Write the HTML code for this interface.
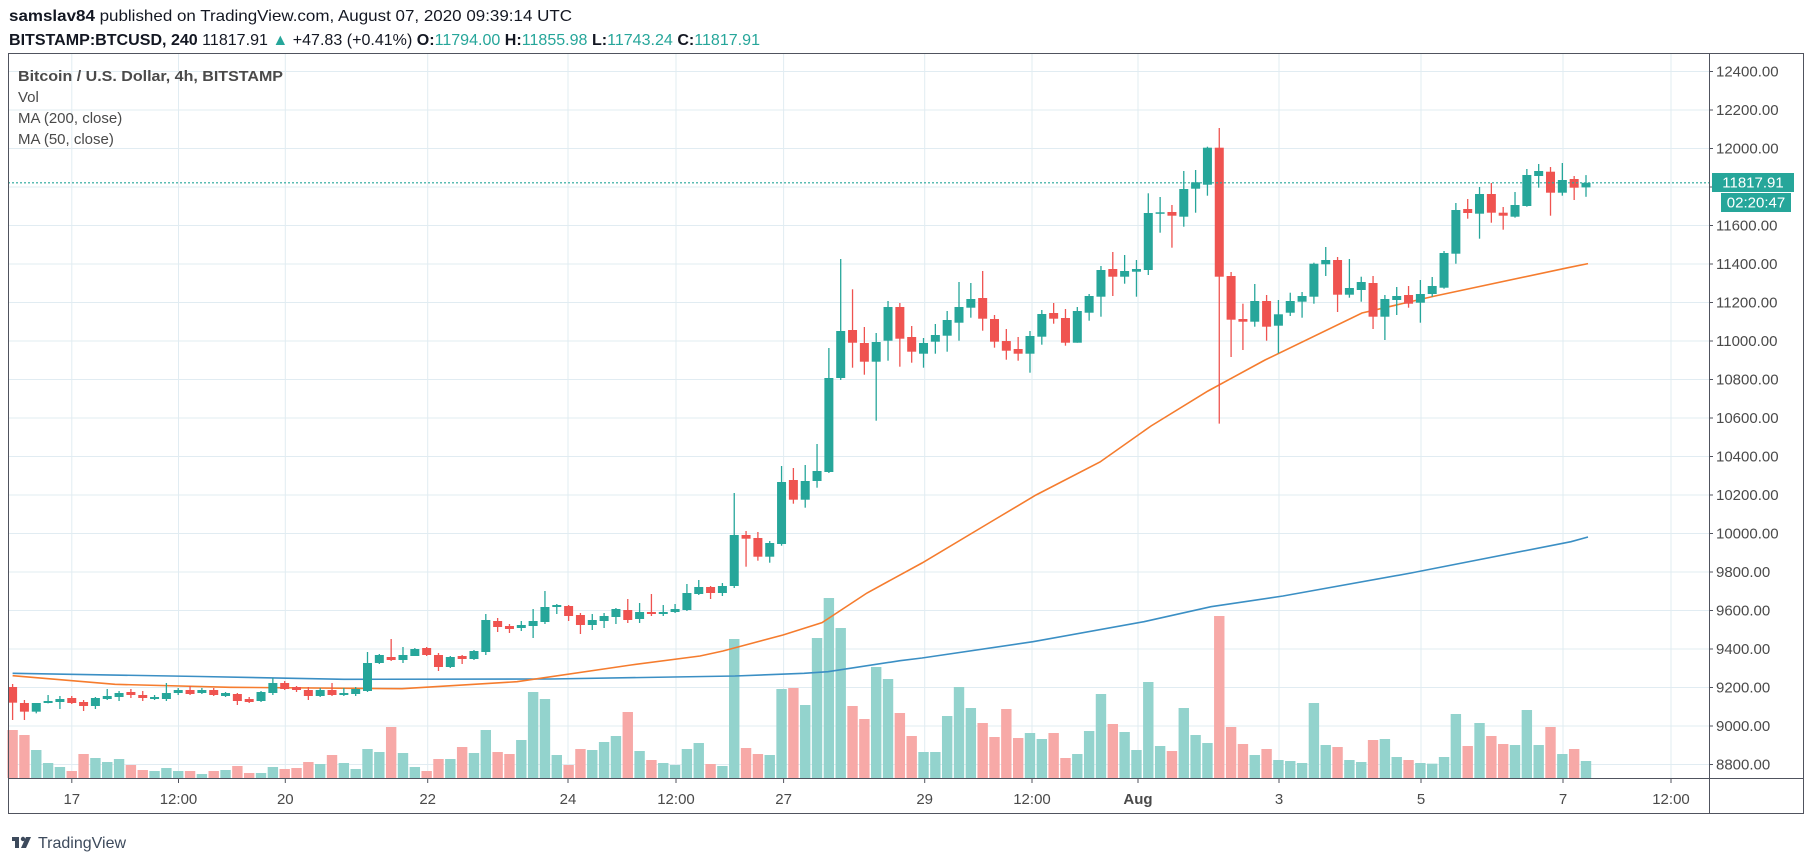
<!DOCTYPE html>
<html><head><meta charset="utf-8"><style>
html,body{margin:0;padding:0;background:#fff;width:1805px;height:861px;overflow:hidden}
svg{display:block;font-family:"Liberation Sans",sans-serif}
</style></head><body>
<svg id="s" width="1805" height="861" viewBox="0 0 1805 861" xmlns="http://www.w3.org/2000/svg">
<rect width="1805" height="861" fill="#fff"/>
<g id="grid" stroke="#e1ecf2" stroke-width="1"></g>
<g id="vol"></g>
<polyline id="ma200" fill="none" stroke="#3b8fc4" stroke-width="1.6" points="12.6,673.3 200,676.5 344,679.3 550,679 735,676 804,673.3 828,671.7 900,660.7 922,658 1033,641.7 1144,621.7 1211,606.7 1283,596 1411,573 1571,541.7 1588,537"/>
<polyline id="ma50" fill="none" stroke="#f57c2e" stroke-width="1.6" points="12.6,675.7 115,684.3 230,687.3 402,688.7 517,681.7 631,665 700,656 723,651 783,635 822,622.7 867,593 922,563 994,520 1036,495 1100,462 1151,426 1208,391 1265,360 1362,313 1435,296 1568,267.7 1588,263.6"/>
<g id="cnd"></g>
<line x1="8" y1="182.8" x2="1709" y2="182.8" stroke="#26a69a" stroke-width="1.2" stroke-dasharray="2,2"/>
<rect x="8.5" y="53.5" width="1795" height="760" fill="none" stroke="#50535e" stroke-width="1"/>
<line x1="1709.5" y1="53" x2="1709.5" y2="814" stroke="#50535e"/>
<line x1="8" y1="778.5" x2="1804" y2="778.5" stroke="#50535e"/>
<g id="ax" font-size="15" fill="#4a4a4a"></g>
<rect x="1712" y="173" width="82" height="19" fill="#26a69a"/>
<text x="1753" y="187.5" font-size="15" fill="#fff" text-anchor="middle">11817.91</text>
<rect x="1721" y="193" width="70" height="19" fill="#26a69a"/>
<text x="1756" y="207.5" font-size="15" fill="#fff" text-anchor="middle">02:20:47</text>
<text x="9" y="21" font-size="16" fill="#131722" textLength="563" lengthAdjust="spacingAndGlyphs"><tspan font-weight="bold">samslav84</tspan> published on TradingView.com, August 07, 2020 09:39:14 UTC</text>
<text x="9" y="45" font-size="16" fill="#131722" textLength="751" lengthAdjust="spacingAndGlyphs"><tspan font-weight="bold">BITSTAMP:BTCUSD, 240</tspan> 11817.91 <tspan fill="#26a69a">▲</tspan> +47.83 (+0.41%) <tspan font-weight="bold">O:</tspan><tspan fill="#26a69a">11794.00</tspan> <tspan font-weight="bold">H:</tspan><tspan fill="#26a69a">11855.98</tspan> <tspan font-weight="bold">L:</tspan><tspan fill="#26a69a">11743.24</tspan> <tspan font-weight="bold">C:</tspan><tspan fill="#26a69a">11817.91</tspan></text>
<g font-size="15" fill="#4a4a4a">
<text x="18" y="81" font-weight="bold" textLength="265" lengthAdjust="spacingAndGlyphs">Bitcoin / U.S. Dollar, 4h, BITSTAMP</text>
<text x="18" y="102">Vol</text>
<text x="18" y="123">MA (200, close)</text>
<text x="18" y="144">MA (50, close)</text>
</g>
<g transform="translate(12,834)">
<rect x="0" y="3" width="7" height="4" fill="#3d4a5c"/><rect x="3" y="3" width="4" height="11" fill="#3d4a5c"/>
<circle cx="11" cy="5" r="2.2" fill="#3d4a5c"/><path d="M9 14 L14 3 L19 3 L14 14 Z" fill="#3d4a5c"/>
</g>
<text x="38" y="848" font-size="16" fill="#3d4a5c">TradingView</text>
</svg>
<script>
var NS="http://www.w3.org/2000/svg";
function el(p,t,a){var e=document.createElementNS(NS,t);for(var k in a)e.setAttribute(k,a[k]);p.appendChild(e);return e;}
function Y(p){return 764.5-(p-8800)*0.1925;}
var grid=document.getElementById('grid'),ax=document.getElementById('ax');
for(var p=8800;p<=12400;p+=200){var y=Y(p);el(grid,'line',{x1:8,x2:1709,y1:y,y2:y});
 var t=el(ax,'text',{x:1716,y:y+5});t.textContent=p.toFixed(2);
 el(ax,'line',{x1:1709,x2:1713,y1:y,y2:y,stroke:'#50535e'});}
var vx=[[71.8,'17'],[178.5,'12:00'],[285.3,'20'],[427.7,'22'],[568,'24'],[676,'12:00'],[783.6,'27'],[924.7,'29'],[1032,'12:00'],[1138,'Aug'],[1279,'3'],[1421,'5'],[1563,'7'],[1671,'12:00']];
vx.forEach(function(v){el(grid,'line',{x1:v[0],x2:v[0],y1:54,y2:778});
 el(ax,'line',{x1:v[0],x2:v[0],y1:778,y2:783,stroke:'#50535e'});
 var a={x:v[0],y:804,'text-anchor':'middle'};if(v[1]=='Aug')a['font-weight']='bold';
 var t=el(ax,'text',a);t.textContent=v[1];});
var A8=[[321,368,312,420],[369,395,360,420],[395,369,369,400],[369,363,345,370],[366,357,348,387],[354,369,348,372],[366,378,360,393],[378,354,351,387],[357,348,327,360],[351,339,333,363],[336,345,327,354],[345,354,333,363],[357,351,345,360],[357,339,309,363],[339,330,324,345],[330,342,318,345],[339,330,324,342],[330,345,324,348],[348,339,336,351],[342,363,339,375],[357,366,351,369],[363,336,333,366],[339,309,294,345],[309,327,303,330],[321,330,318,336],[330,348,321,360],[348,330,324,351],[330,345,309,348],[345,339,324,348],[342,327,321,348],[333,249,216,336],[249,225,222,252],[231,240,177,243],[240,225,201,249],[228,207,204,228],[204,225,201,228],[225,261,219,273],[261,231,228,264],[228,237,225,252],[237,213,210,240],[216,120,102,225],[123,141,114,156],[138,147,132,159],[144,135,123,153],[138,123,87,174],[126,81,33,132],[81,75,72,102],[78,108,75,123],[105,135,99,162],[135,120,102,150],[123,108,99,144],[111,87,84,132],[90,120,57,129],[117,96,69,129],[96,102,42,108],[102,96,75,108],[96,87,72,99],[90,39,12,93],[42,21,0,45],[21,39,18,57],[39,18,9,48]];
var C=A8.map(function(r){return r.map(function(z){return 580+z/3;});});
C=C.concat([[586,535,493,588],[535,538.7,531,566.7],[538,556.7,532,560.7],[556.7,543,541,562.7],[544,482,466,545.7],[480,499.7,468,503.7],[499.7,481,465,507.7],[481,471,444,487.7],[472,378,348,473],[378,331,259,380],[330,342.7,289.3,367.7],[343,361.7,327,374.7],[361.7,342,333,420.7],[340.7,307,301,360.7],[307,338.7,303,366.7],[337,351.7,326,362.7],[353.7,343,338,367.7],[341.7,335,324,353.7],[335.7,320,311,351.7],[322.7,307,282,340.7],[307.7,299,283,317.7],[298,318.7,271,330.7],[319,341.7,315,347.7],[341,350.7,329,359.7],[349,353.7,337,360.7],[353.7,336,331,372.7],[336.7,314,310,344.7],[313,318.7,303,323.7],[318,342.7,309,345.7],[342.7,311,307,342.7],[312.7,296,294,320.7],
[296.7,270,266,316.7],[269,276.7,252,296],[276.7,271,255,283.7],[271.7,269,260,296.7],[270,213,193.3,275],[213.7,212.3,197,232.7],[212,215.7,205,247.7],[216.7,189,171,226.7],[188.7,182.3,170,212.7],[184.7,147.7,146.7,195.7],[147.7,276.7,128,423.6],[276,319.7,272,357],[319,321.7,303.7,350],[321.7,301,284,326.7],[301,326.7,295,340.7],[325.7,314.3,300,353.3],[312.7,301,292.7,316],[301.7,296,292,317.7],[296.7,263.7,262.7,303.7],[264.3,260,247,276],[260,294.7,257,312],[294.7,288,259,297.7],[290,282,276.7,301.7],[283,316.7,276,329],[316.7,299,295,340],[300,296,287,315],[295,303.7,286,307.7],[302.7,294,280,322.7],[294,286,277,296.7],[287.7,253,251,288.7],[253.7,210,203,263.7],[209,213,199,218.7],[213.7,194,187,238.7],[194,212.7,183,222.7],[212.7,215.7,207,229.7],[216.7,205,192,217.7],[206,175,169,206.7],[176,171,164,187.7],[171.7,192.7,167,215.7],[192.7,180,163,195.7],[179,187.7,176,200],[187.4,182.8,175.1,196.8]]);
var V=("r450 r465 g510 g549 g561 r573 r522 g534 g546 g537 r555 r570 g573 g564 g573 r573 g582 r573 g570 r558 r579 g579 g561 r567 r564 r546 g552 r525 g549 g567 g507 g516 r441 g519 g561 r573 r537 g537 r501 g519 g450 r516 r522 g480 g336 g357 g525 r555 r507 g510 g486 g468 r396 g513 r540 g549 g555 g507 g489 r552 g558 g177 r504 r522 g525 g327 r324 g375 g174 g54 g144 r378 r417 g261 g297 r399 "+
"r468 g516 g516 g408 g321 g384 r429 r471 r387 r474 g459 g477 r459 r534 g522 g453 g342 r432 g456 g510 g306 g498 r513 g384 g465 g489 r108 r441 r492 g525 r507 g540 g543 g549 g369 g495 r501 g540 g546 r480 g477 g531 r540 g549 g551 g531 g402 r498 g429 r468 r492 g495 g390 g495 r441 g522 r507 g543").split(' ');
var vol=document.getElementById('vol'),cnd=document.getElementById('cnd');
var SP=(1586-12.6)/133;
V.forEach(function(v,i){var x=12.6+i*SP,top=580+(+v.slice(1))/3;
 el(vol,'rect',{x:x-5.2,y:top,width:10.4,height:778-top,fill:v[0]=='g'?'#93d3cd':'#f7a9a7'});});
C.forEach(function(c,i){var x=12.6+i*SP,o=c[0],cl=c[1],g=cl<=o,col=g?'#26a69a':'#ef5350';
 var t=Math.min(o,cl),b=Math.max(o,cl);if(b-t<1.5){b=t+1.5;}
 el(cnd,'line',{x1:x,x2:x,y1:c[2],y2:c[3],stroke:col,'stroke-width':1.3});
 el(cnd,'rect',{x:x-4.5,y:t,width:9,height:b-t,fill:col});});
</script>
</body></html>
